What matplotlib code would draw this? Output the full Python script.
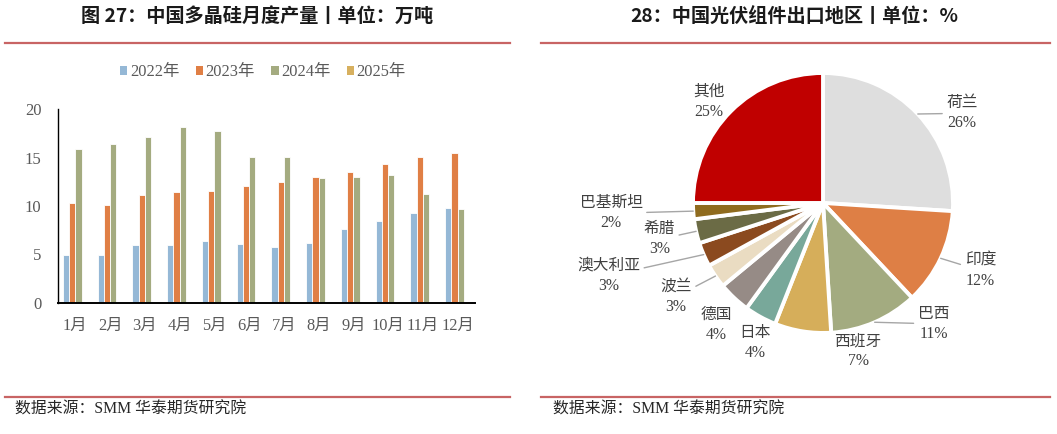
import matplotlib
matplotlib.use("Agg")
import matplotlib.pyplot as plt
from matplotlib.lines import Line2D
from matplotlib.patches import Patch
import numpy as np

# 图27 数据
months = ['1月', '2月', '3月', '4月', '5月', '6月', '7月', '8月', '9月', '10月', '11月', '12月']
years = ['2022年', '2023年', '2024年', '2025年']
y2022 = [5.0, 5.0, 6.0, 6.0, 6.4, 6.1, 5.8, 6.2, 7.6, 8.5, 9.3, 9.8]
y2023 = [10.3, 10.1, 11.1, 11.4, 11.5, 12.1, 12.5, 13.0, 13.5, 14.3, 15.1, 15.5]
y2024 = [15.9, 16.4, 17.1, 18.1, 17.7, 15.1, 15.0, 12.9, 13.0, 13.2, 11.2, 9.7]
y2025 = []

# 图28 数据
regions = ['荷兰', '印度', '巴西', '西班牙', '日本', '德国', '波兰', '澳大利亚', '希腊', '巴基斯坦', '其他']
shares = [26, 12, 11, 7, 4, 4, 3, 3, 3, 2, 25]

bar_colors = ['#95B8D6', '#E07F45', '#A4AB80', '#D7B05F']
pie_colors = ['#DEDEDE', '#DE7F45', '#A3AB80', '#D6AE5A', '#78A89A', '#968B86',
              '#EADCC2', '#8B4A1F', '#6B6B45', '#8F6B1E', '#C00000']

serif_cjk = ['Liberation Serif', 'Noto Sans CJK SC']
gray = '#595959'
red_line = '#C86464'

fig = plt.figure(figsize=(10.57, 4.34), dpi=100)

# 标题和分隔线
fig.text(257 / 1057, 1 - 16 / 434, '图 27：中国多晶硅月度产量丨单位：万吨', ha='center', va='center',
         family=['Noto Sans CJK SC'], weight='bold', fontsize=13.8, color='#1a1a1a')
fig.text(794 / 1057, 1 - 16 / 434, '28：中国光伏组件出口地区丨单位：%', ha='center', va='center',
         family=['Noto Sans CJK SC'], weight='bold', fontsize=13.8, color='#1a1a1a')
for x0, x1 in [(5, 510), (541, 1050)]:
    for yy in [43, 397]:
        fig.add_artist(Line2D([x0 / 1057, x1 / 1057], [1 - yy / 434] * 2, color=red_line, lw=1.6))
for xx in [15, 553]:
    fig.text(xx / 1057, 1 - 410 / 434, '数据来源：SMM 华泰期货研究院', ha='left', va='center',
             family=serif_cjk, fontsize=11.4, color='#262626')

# 柱状图
ax = fig.add_axes([58 / 1057, 1 - 303 / 434, 417 / 1057, 194 / 434])
series = [y2022, y2023, y2024, y2025]
n = len(series)
w = 0.18
x = np.arange(len(months))
for i, vals in enumerate(series):
    if len(vals) == 0:
        continue
    ax.bar(x + (i - (n - 1) / 2) * w, vals, width=w, color=bar_colors[i],
           edgecolor='white', linewidth=0.6)
ax.set_xlim(-0.5, len(months) - 0.5)
ax.set_ylim(0, 20)
ax.set_yticks([0, 5, 10, 15, 20])
ax.set_xticks(x)
ax.set_xticklabels(months, family=serif_cjk, fontsize=11.8, color=gray)
for lab in ax.get_yticklabels():
    lab.set_family(serif_cjk)
    lab.set_fontsize(12)
    lab.set_color(gray)
ax.tick_params(length=0)
ax.tick_params(axis='x', pad=11)
ax.tick_params(axis='y', pad=12)
for s in ['top', 'right']:
    ax.spines[s].set_visible(False)
ax.spines['left'].set_color('black')
ax.spines['left'].set_linewidth(1.0)
ax.spines['bottom'].set_color('black')
ax.spines['bottom'].set_linewidth(1.4)

handles = [Patch(facecolor=c, edgecolor='none') for c in bar_colors]
fig.legend(handles, years, loc='center', bbox_to_anchor=(263 / 1057, 1 - 72 / 434), ncol=4,
           frameon=False, handlelength=0.45, handleheight=0.45, handletextpad=0.15,
           columnspacing=1.0, prop={'family': serif_cjk, 'size': 11.8}, labelcolor=gray)

# 饼图
ax2 = fig.add_axes([560 / 1057, 54 / 434, 490 / 1057, 320 / 434])
wedges, _ = ax2.pie(shares, colors=pie_colors, startangle=90, counterclock=False,
                    wedgeprops=dict(edgecolor='white', linewidth=2.8))
ax2.set_aspect('auto')
ax2.set_xlim(-2.023, 1.746)
ax2.set_ylim(-1.362, 1.1)
ax2.axis('off')

label_pos = [(1.07, 0.69), (1.21, -0.52), (0.85, -0.93), (0.27, -1.14), (-0.52, -1.08),
             (-0.82, -0.94), (-1.13, -0.72), (-1.65, -0.56), (-1.26, -0.28), (-1.63, -0.08),
             (-0.88, 0.78)]
leader = [True, True, True, False, False, False, True, True, True, True, False]
for wdg, name, v, pos, ld in zip(wedges, regions, shares, label_pos, leader):
    ang = np.deg2rad((wdg.theta1 + wdg.theta2) / 2)
    edge = (np.cos(ang), np.sin(ang))
    props = dict(arrowstyle='-', color='#A6A6A6', lw=1.0, shrinkA=1, shrinkB=0) if ld else None
    ax2.annotate(f'{name}\n{v}%', xy=edge, xytext=pos, ha='center', va='center',
                 family=serif_cjk, fontsize=11.3, color='#404040', linespacing=1.35,
                 arrowprops=props)

fig.savefig('out.png', dpi=100)
